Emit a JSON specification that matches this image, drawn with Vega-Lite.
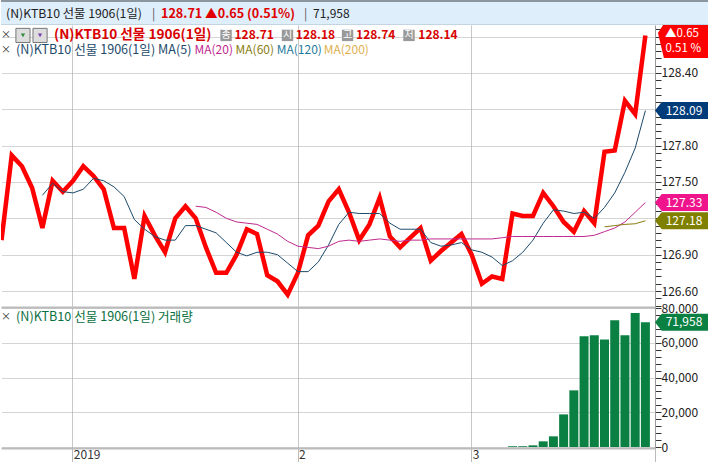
{"$schema":"https://vega.github.io/schema/vega-lite/v6.json","padding":0,"autosize":{"type":"pad"},"bounds":"flush","spacing":0,"background":"#ffffff","config":{"view":{"stroke":null},"font":"Noto Sans CJK KR","text":{"font":"Noto Sans CJK KR","fontSize":12,"align":"left","baseline":"middle"}},
"datasets":{"daily":[{"i":0,"close":127.02},{"i":1,"close":127.72},{"i":2,"close":127.63},{"i":3,"close":127.45},{"i":4,"close":127.12,"ma5":127.39},{"i":5,"close":127.51,"ma5":127.49},{"i":6,"close":127.42,"ma5":127.42},{"i":7,"close":127.51,"ma5":127.41},{"i":8,"close":127.63,"ma5":127.44},{"i":9,"close":127.55,"ma5":127.53},{"i":10,"close":127.44,"ma5":127.51},{"i":11,"close":127.12,"ma5":127.46},{"i":12,"close":127.12,"ma5":127.38},{"i":13,"close":126.7,"ma5":127.19},{"i":14,"close":127.22,"ma5":127.11},{"i":15,"close":127.06,"ma5":127.05},{"i":16,"close":126.92,"ma5":127.02},{"i":17,"close":127.2,"ma5":127.02},{"i":18,"close":127.3,"ma5":127.14},{"i":19,"close":127.2,"ma5":127.14,"ma20":127.3},{"i":20,"close":126.96,"ma5":127.11,"ma20":127.29},{"i":21,"close":126.75,"ma5":127.08,"ma20":127.25},{"i":22,"close":126.75,"ma5":127.0,"ma20":127.2},{"i":23,"close":126.9,"ma5":126.92,"ma20":127.17},{"i":24,"close":127.11,"ma5":126.89,"ma20":127.16},{"i":25,"close":127.07,"ma5":126.92,"ma20":127.15},{"i":26,"close":126.73,"ma5":126.92,"ma20":127.11},{"i":27,"close":126.68,"ma5":126.9,"ma20":127.07},{"i":28,"close":126.57,"ma5":126.83,"ma20":127.01},{"i":29,"close":126.75,"ma5":126.76,"ma20":126.97},{"i":30,"close":127.06,"ma5":126.76,"ma20":126.96},{"i":31,"close":127.14,"ma5":126.84,"ma20":126.95},{"i":32,"close":127.34,"ma5":126.98,"ma20":126.97},{"i":33,"close":127.44,"ma5":127.15,"ma20":127.01},{"i":34,"close":127.25,"ma5":127.25,"ma20":127.02},{"i":35,"close":127.02,"ma5":127.24,"ma20":127.01},{"i":36,"close":127.15,"ma5":127.24,"ma20":127.02},{"i":37,"close":127.37,"ma5":127.24,"ma20":127.03},{"i":38,"close":127.05,"ma5":127.16,"ma20":127.02},{"i":39,"close":126.96,"ma5":127.11,"ma20":127.01},{"i":40,"close":127.04,"ma5":127.11,"ma20":127.02},{"i":41,"close":127.12,"ma5":127.11,"ma20":127.02},{"i":42,"close":126.85,"ma5":127.0,"ma20":127.03},{"i":43,"close":126.93,"ma5":126.97,"ma20":127.03},{"i":44,"close":127.0,"ma5":126.98,"ma20":127.03},{"i":45,"close":127.07,"ma5":127.0,"ma20":127.03},{"i":46,"close":126.9,"ma5":126.94,"ma20":127.03},{"i":47,"close":126.66,"ma5":126.92,"ma20":127.03},{"i":48,"close":126.72,"ma5":126.88,"ma20":127.03},{"i":49,"close":126.7,"ma5":126.81,"ma20":127.04},{"i":50,"close":127.24,"ma5":126.85,"ma20":127.05,"vol":400},{"i":51,"close":127.22,"ma5":126.92,"ma20":127.05,"vol":450},{"i":52,"close":127.22,"ma5":127.02,"ma20":127.05,"vol":950},{"i":53,"close":127.41,"ma5":127.16,"ma20":127.05,"vol":3260},{"i":54,"close":127.3,"ma5":127.27,"ma20":127.05,"vol":6150},{"i":55,"close":127.17,"ma5":127.26,"ma20":127.05,"vol":18800},{"i":56,"close":127.09,"ma5":127.24,"ma20":127.05,"vol":32650},{"i":57,"close":127.26,"ma5":127.25,"ma20":127.05,"vol":63800},{"i":58,"close":127.16,"ma5":127.2,"ma20":127.06,"vol":64400},{"i":59,"close":127.75,"ma5":127.29,"ma20":127.09,"ma60":127.13,"vol":62000},{"i":60,"close":127.76,"ma5":127.41,"ma20":127.12,"ma60":127.14,"vol":73000},{"i":61,"close":128.17,"ma5":127.58,"ma20":127.17,"ma60":127.15,"vol":64400},{"i":62,"close":128.06,"ma5":127.78,"ma20":127.25,"ma60":127.155,"vol":77300},{"i":63,"close":128.71,"ma5":128.09,"ma20":127.33,"ma60":127.18,"vol":71958}]},
"vconcat":[
{"width":708,"height":25,"view":{"fill":"#deeefb","stroke":null},"data":{"values":[{"label":"(N)KTB10 선물 1906(1일)"}]},"layer":[
{"mark":{"type":"rule","color":"#8c969e","strokeWidth":2},"encoding":{"y":{"datum":1,"scale":{"domain":[0,25],"reverse":true,"nice":false,"zero":false},"axis":null}}},
{"mark":{"type":"rule","color":"#c4d4e0","strokeWidth":1},"encoding":{"y":{"datum":24.5,"axis":null}}},
{"mark":{"type":"text","color":"#222222","fontSize":12.3},"encoding":{"x":{"datum":5,"scale":{"domain":[0,708],"nice":false,"zero":false},"axis":null},"y":{"datum":13.5,"axis":null},"text":{"field":"label"}}},
{"data":{"values":[{"label":"|"}]},"mark":{"type":"text","color":"#555555"},"encoding":{"x":{"datum":151,"axis":null},"y":{"datum":13.5,"axis":null},"text":{"field":"label"}}},
{"data":{"values":[{"label":"128.71 ▲0.65 (0.51%)"}]},"mark":{"type":"text","color":"#e00000","fontWeight":"bold","fontSize":12.6},"encoding":{"x":{"datum":160,"axis":null},"y":{"datum":13.5,"axis":null},"text":{"field":"label"}}},
{"data":{"values":[{"label":"|"}]},"mark":{"type":"text","color":"#555555"},"encoding":{"x":{"datum":303,"axis":null},"y":{"datum":13.5,"axis":null},"text":{"field":"label"}}},
{"data":{"values":[{"label":"71,958"}]},"mark":{"type":"text","color":"#222222"},"encoding":{"x":{"datum":312,"axis":null},"y":{"datum":13.5,"axis":null},"text":{"field":"label"}}}
]},
{"width":654,"height":282,"data":{"name":"daily"},"resolve":{"axis":{"x":"independent","y":"independent"}},"layer":[
{"mark":{"type":"line","color":"#ff0000","strokeWidth":4.5,"clip":true},"encoding":{"x":{"field":"i","type":"quantitative","title":null,"scale":{"domain":[-0.05,63.94],"nice":false,"zero":false},"axis":{"values":[6.93,28.97,45.97],"grid":true,"gridColor":"#c8c8c8","gridWidth":1,"ticks":false,"labels":false,"domain":true,"domainColor":"#bbbbbb","domainWidth":2}},"y":{"field":"close","type":"quantitative","title":null,"scale":{"domain":[126.468,128.796],"nice":false,"zero":false},"axis":{"orient":"right","values":[126.48,126.54,126.6,126.66,126.72,126.78,126.84,126.9,126.96,127.02,127.08,127.14,127.2,127.26,127.32,127.38,127.44,127.5,127.56,127.62,127.68,127.74,127.8,127.86,127.92,127.98,128.04,128.1,128.16,128.22,128.28,128.34,128.4,128.46,128.52,128.58,128.64,128.7,128.76],"grid":true,"gridColor":"#aaaaaa","gridDash":[1,1],"gridOpacity":{"condition":{"test":"round(datum.value*100)%30==0","value":1},"value":0},"labelExpr":"round(datum.value*100)%30==0&&round(datum.value*100)!=12870&&round(datum.value*100)!=12810&&round(datum.value*100)!=12720?format(datum.value,'.2f'):''","tickSize":6,"tickColor":"#333333","domainColor":"#999999","labelFontSize":12,"labelPadding":0,"labelColor":"#222222","labelOverlap":false,"labelBound":false,"labelFlush":false}}}},
{"mark":{"type":"line","color":"#1d4a6b","strokeWidth":1},"encoding":{"x":{"field":"i","type":"quantitative","axis":null},"y":{"field":"ma5","type":"quantitative","axis":null}}},
{"mark":{"type":"line","color":"#c0288f","strokeWidth":1},"encoding":{"x":{"field":"i","type":"quantitative","axis":null},"y":{"field":"ma20","type":"quantitative","axis":null}}},
{"mark":{"type":"line","color":"#8a7d10","strokeWidth":1},"encoding":{"x":{"field":"i","type":"quantitative","axis":null},"y":{"field":"ma60","type":"quantitative","axis":null}}},
{"data":{"values":[{"label":"128.09","level":128.09,"series":"MA(5)"},{"label":"127.33","level":127.33,"series":"MA(20)"},{"label":"127.18","level":127.18,"series":"MA(60)"}]},"mark":{"type":"point","filled":true,"opacity":1,"size":2916,"shape":"M-1,0 L-0.75,-0.315 L1,-0.315 L1,0.315 L-0.75,0.315 Z"},"encoding":{"x":{"datum":66.58,"axis":null},"y":{"field":"level","type":"quantitative","axis":null},"color":{"field":"series","type":"nominal","legend":null,"scale":{"domain":["MA(5)","MA(20)","MA(60)"],"range":["#003b7a","#f0148c","#808000"]}}}},
{"data":{"values":[{"label":"128.09","level":128.09},{"label":"127.33","level":127.33},{"label":"127.18","level":127.18}]},"mark":{"type":"text","color":"#ffffff","align":"center"},"encoding":{"x":{"datum":66.78,"axis":null},"y":{"field":"level","type":"quantitative","axis":null},"text":{"field":"label"}}},
{"data":{"values":[{"level":128.71}]},"mark":{"type":"point","filled":true,"opacity":1,"size":2916,"color":"#ff0000","shape":"M-0.7,-0.385 L-0.89,-0.09 L-0.67,0.837 L1,0.837 L1,-0.385 Z"},"encoding":{"x":{"datum":66.58,"axis":null},"y":{"field":"level","type":"quantitative","axis":null}}},
{"data":{"values":[{"label":"▲0.65"}]},"mark":{"type":"text","color":"#ffffff","align":"center","fontSize":11.5},"encoding":{"x":{"datum":66.58,"axis":null},"y":{"datum":128.725,"axis":null},"text":{"field":"label"}}},
{"data":{"values":[{"label":"0.51 %"}]},"mark":{"type":"text","color":"#ffffff","align":"center","fontSize":11.5},"encoding":{"x":{"datum":66.7,"axis":null},"y":{"datum":128.595,"axis":null},"text":{"field":"label"}}},
{"data":{"values":[{"label":"×"}]},"mark":{"type":"text","color":"#333333","align":"center","fontSize":10},"encoding":{"x":{"datum":0.44,"axis":null},"y":{"datum":128.71,"axis":null},"text":{"field":"label"}}},
{"data":{"values":[{"label":"×"}]},"mark":{"type":"text","color":"#333333","align":"center","fontSize":10},"encoding":{"x":{"datum":0.44,"axis":null},"y":{"datum":128.59,"axis":null},"text":{"field":"label"}}},
{"data":{"values":[{"k":1}]},"mark":{"type":"point","shape":"square","filled":true,"size":200,"color":"#dddddd","stroke":"#777777","strokeWidth":1,"opacity":1},"encoding":{"x":{"datum":2.1,"axis":null},"y":{"datum":128.71,"axis":null}}},
{"data":{"values":[{"k":1}]},"mark":{"type":"point","shape":"square","filled":true,"size":200,"color":"#dddddd","stroke":"#777777","strokeWidth":1,"opacity":1},"encoding":{"x":{"datum":3.77,"axis":null},"y":{"datum":128.71,"axis":null}}},
{"data":{"values":[{"k":1}]},"mark":{"type":"point","shape":"triangle-down","filled":true,"size":18,"color":"#2e8b3d","opacity":1},"encoding":{"x":{"datum":2.1,"axis":null},"y":{"datum":128.71,"axis":null}}},
{"data":{"values":[{"k":1}]},"mark":{"type":"point","shape":"triangle-down","filled":true,"size":18,"color":"#7b3fb0","opacity":1},"encoding":{"x":{"datum":3.77,"axis":null},"y":{"datum":128.71,"axis":null}}},
{"data":{"values":[{"label":"(N)KTB10 선물 1906(1일)"}]},"mark":{"type":"text","color":"#d80000","fontWeight":"bold","fontSize":13.6},"encoding":{"x":{"datum":5.14,"axis":null},"y":{"datum":128.71,"axis":null},"text":{"field":"label"}}},
{"data":{"values":[{"k":1}]},"mark":{"type":"point","shape":"square","filled":true,"size":130,"color":"#999999","opacity":1},"encoding":{"x":{"datum":21.97,"axis":null},"y":{"datum":128.71,"axis":null}}},
{"data":{"values":[{"k":1}]},"mark":{"type":"point","shape":"square","filled":true,"size":130,"color":"#999999","opacity":1},"encoding":{"x":{"datum":27.98,"axis":null},"y":{"datum":128.71,"axis":null}}},
{"data":{"values":[{"k":1}]},"mark":{"type":"point","shape":"square","filled":true,"size":130,"color":"#999999","opacity":1},"encoding":{"x":{"datum":33.86,"axis":null},"y":{"datum":128.71,"axis":null}}},
{"data":{"values":[{"k":1}]},"mark":{"type":"point","shape":"square","filled":true,"size":130,"color":"#999999","opacity":1},"encoding":{"x":{"datum":39.87,"axis":null},"y":{"datum":128.71,"axis":null}}},
{"data":{"values":[{"label":"종"}]},"mark":{"type":"text","color":"#ffffff","align":"center","fontSize":10},"encoding":{"x":{"datum":21.97,"axis":null},"y":{"datum":128.71,"axis":null},"text":{"field":"label"}}},
{"data":{"values":[{"label":"시"}]},"mark":{"type":"text","color":"#ffffff","align":"center","fontSize":10},"encoding":{"x":{"datum":27.98,"axis":null},"y":{"datum":128.71,"axis":null},"text":{"field":"label"}}},
{"data":{"values":[{"label":"고"}]},"mark":{"type":"text","color":"#ffffff","align":"center","fontSize":10},"encoding":{"x":{"datum":33.86,"axis":null},"y":{"datum":128.71,"axis":null},"text":{"field":"label"}}},
{"data":{"values":[{"label":"저"}]},"mark":{"type":"text","color":"#ffffff","align":"center","fontSize":10},"encoding":{"x":{"datum":39.87,"axis":null},"y":{"datum":128.71,"axis":null},"text":{"field":"label"}}},
{"data":{"values":[{"label":"128.71"}]},"mark":{"type":"text","color":"#d80000","fontWeight":"bold"},"encoding":{"x":{"datum":22.8,"axis":null},"y":{"datum":128.71,"axis":null},"text":{"field":"label"}}},
{"data":{"values":[{"label":"128.18"}]},"mark":{"type":"text","color":"#d80000","fontWeight":"bold"},"encoding":{"x":{"datum":28.8,"axis":null},"y":{"datum":128.71,"axis":null},"text":{"field":"label"}}},
{"data":{"values":[{"label":"128.74"}]},"mark":{"type":"text","color":"#d80000","fontWeight":"bold"},"encoding":{"x":{"datum":34.69,"axis":null},"y":{"datum":128.71,"axis":null},"text":{"field":"label"}}},
{"data":{"values":[{"label":"128.14"}]},"mark":{"type":"text","color":"#d80000","fontWeight":"bold"},"encoding":{"x":{"datum":40.78,"axis":null},"y":{"datum":128.71,"axis":null},"text":{"field":"label"}}},
{"data":{"values":[{"label":"(N)KTB10 선물 1906(1일) MA(5)"}]},"mark":{"type":"text","color":"#1d4a6b","fontSize":12.6},"encoding":{"x":{"datum":1.42,"axis":null},"y":{"datum":128.59,"axis":null},"text":{"field":"label"}}},
{"data":{"values":[{"label":"MA(20)"}]},"mark":{"type":"text","color":"#c0288f"},"encoding":{"x":{"datum":18.88,"axis":null},"y":{"datum":128.59,"axis":null},"text":{"field":"label"}}},
{"data":{"values":[{"label":"MA(60)"}]},"mark":{"type":"text","color":"#8a7d10"},"encoding":{"x":{"datum":22.9,"axis":null},"y":{"datum":128.59,"axis":null},"text":{"field":"label"}}},
{"data":{"values":[{"label":"MA(120)"}]},"mark":{"type":"text","color":"#1f7a9c"},"encoding":{"x":{"datum":26.93,"axis":null},"y":{"datum":128.59,"axis":null},"text":{"field":"label"}}},
{"data":{"values":[{"label":"MA(200)"}]},"mark":{"type":"text","color":"#e0b050"},"encoding":{"x":{"datum":31.53,"axis":null},"y":{"datum":128.59,"axis":null},"text":{"field":"label"}}}
]},
{"width":654,"height":141,"data":{"name":"daily"},"resolve":{"axis":{"x":"independent","y":"independent"}},"layer":[
{"mark":{"type":"bar","color":"#0a8043","size":9},"encoding":{"x":{"field":"i","type":"quantitative","title":null,"scale":{"domain":[-0.05,63.94],"nice":false,"zero":false,"padding":0},"axis":{"values":[6.93,28.97,45.97,63.94],"grid":true,"gridColor":"#c8c8c8","gridWidth":1,"tickSize":14,"tickColor":"#bbbbbb","domainColor":"#bbbbbb","domainWidth":2,"labelExpr":"datum.value==6.93?'2019':datum.value==28.97?'2':datum.value==45.97?'3':''","labelAlign":"left","labelBaseline":"top","labelPadding":-13,"labelOffset":1,"labelFontSize":12,"labelColor":"#333333","labelOverlap":false,"labelBound":false,"labelFlush":false}},"y":{"field":"vol","type":"quantitative","title":null,"stack":null,"scale":{"domain":[-576,80692],"nice":false,"zero":false},"axis":{"orient":"right","values":[0,4000,8000,12000,16000,20000,24000,28000,32000,36000,40000,44000,48000,52000,56000,60000,64000,68000,72000,76000,80000],"grid":true,"gridColor":"#aaaaaa","gridDash":[1,1],"gridOpacity":{"condition":{"test":"datum.value%20000==0","value":1},"value":0},"labelExpr":"datum.value%20000==0?format(datum.value,','):''","tickSize":6,"tickColor":"#333333","domainColor":"#999999","labelFontSize":12,"labelPadding":0,"labelColor":"#222222","labelOverlap":false,"labelBound":false,"labelFlush":false}}}},
{"data":{"values":[{"level":71958}]},"mark":{"type":"point","filled":true,"opacity":1,"size":2916,"color":"#0a8043","shape":"M-1,0 L-0.75,-0.315 L1,-0.315 L1,0.315 L-0.75,0.315 Z"},"encoding":{"x":{"datum":66.58,"axis":null},"y":{"field":"level","type":"quantitative","axis":null}}},
{"data":{"values":[{"label":"71,958","level":71958}]},"mark":{"type":"text","color":"#ffffff","align":"center"},"encoding":{"x":{"datum":66.78,"axis":null},"y":{"field":"level","type":"quantitative","axis":null},"text":{"field":"label"}}},
{"data":{"values":[{"label":"×"}]},"mark":{"type":"text","color":"#333333","align":"center","fontSize":10},"encoding":{"x":{"datum":0.44,"axis":null},"y":{"datum":74900,"axis":null},"text":{"field":"label"}}},
{"data":{"values":[{"label":"(N)KTB10 선물 1906(1일) 거래량"}]},"mark":{"type":"text","color":"#0a7040","fontSize":12.6},"encoding":{"x":{"datum":1.42,"axis":null},"y":{"datum":74900,"axis":null},"text":{"field":"label"}}}
]}
]}
